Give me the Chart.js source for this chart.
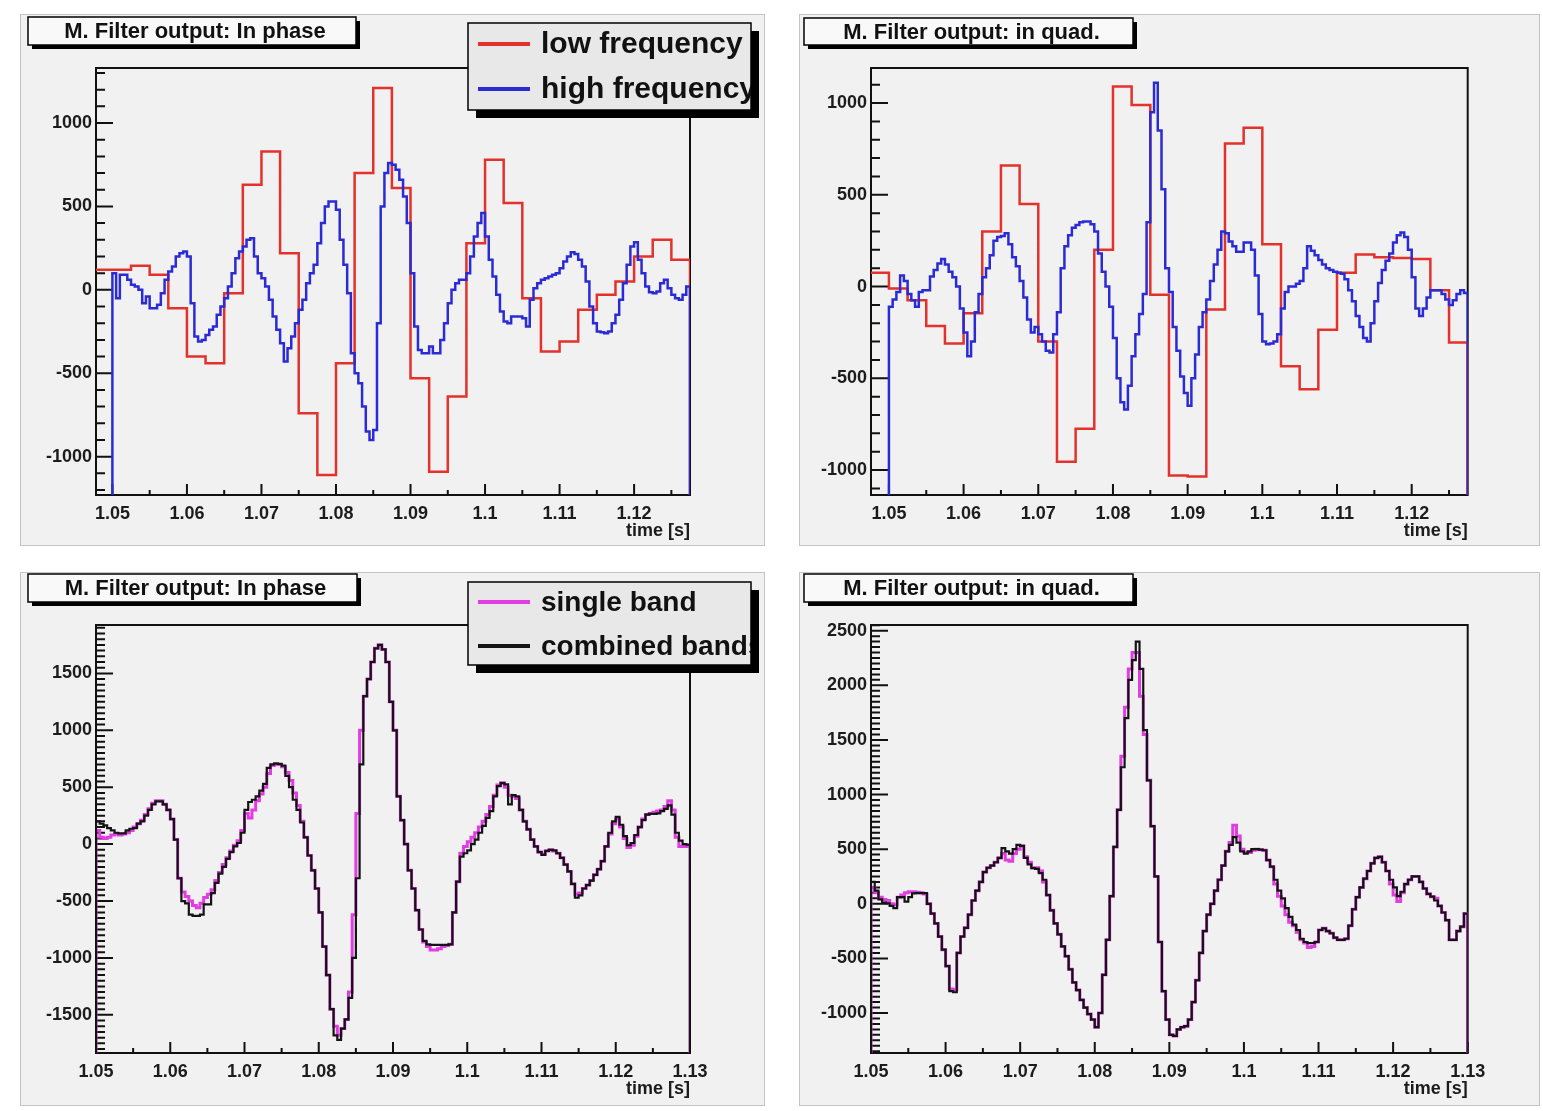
<!DOCTYPE html>
<html>
<head>
<meta charset="utf-8">
<title>M. Filter output</title>
<script src="https://cdn.jsdelivr.net/npm/chart.js@4.4.1/dist/chart.umd.min.js"></script>
<style>
  html,body{margin:0;padding:0;background:#fff}
  body{position:relative;width:1543px;height:1111px;overflow:hidden}
  canvas{position:absolute}
</style>
</head>
<body>
<script>
// bins: low band 2.5 ms wide from 1.0475 s, the others 0.5 ms wide from 1.05 s
const lowStart = 1.0475, lowWidth = 0.0025;
const fineStart = 1.05, fineWidth = 0.0005;

// top row (red / blue)
const phaseLow = [120,120,145,90,-110,-400,-440,-20,630,830,220,-740,-1110,-440,700,1210,
  610,-530,-1090,-640,280,780,520,-50,-370,-310,-120,-30,50,200,300,180];
const phaseHigh = [
  100,-50,90,90,60,30,20,0,-80,-40,
  -110,-110,-90,-20,60,110,140,200,220,230,
  200,-80,-280,-310,-300,-270,-240,-220,-150,-100,
  -50,20,100,190,230,260,300,310,200,100,
  70,20,-60,-160,-240,-320,-430,-350,-280,-200,
  -120,-60,40,100,150,280,400,500,530,530,
  480,300,150,-20,-380,-500,-560,-700,-850,-900,
  -840,-200,500,700,760,
  750,720,660,560,400,100,-220,-360,-380,-380,
  -340,-380,-380,-300,-200,-80,0,40,60,60,
  100,200,320,400,460,320,180,80,-30,-130,
  -190,-200,-160,-160,-160,-170,-220,-60,10,40,
  60,70,80,90,100,130,170,200,225,215,
  180,140,50,-100,-200,-250,-255,-260,-250,-200,
  -150,-60,40,150,260,285,180,100,20,-15,
  -20,-10,40,60,10,-30,-50,-60,-30,20];
const quadLow = [75,-10,-75,-215,-310,-145,300,660,450,-300,-955,-775,200,1090,990,-45,
  -1030,-1035,-125,780,865,230,-435,-560,-235,75,175,160,155,150,-20,-305];
const quadHigh = [
  -110,-70,-30,60,30,-40,-75,-110,-30,-20,
  -20,55,90,125,150,120,80,50,0,-120,
  -250,-380,-300,-140,-40,50,100,170,250,270,
  275,290,230,160,110,30,-60,-180,-250,-220,
  -260,-300,-350,-360,-260,-140,100,220,280,320,
  335,350,355,355,340,300,180,80,0,-110,
  -280,-500,-630,-670,-540,-380,-260,-150,-40,350,
  950,1110,850,530,100,
  -30,-220,-350,-490,-580,-650,-500,-370,-220,-140,
  -70,30,120,200,300,290,245,220,190,190,
  240,240,200,60,-150,-300,-315,-310,-300,-260,
  -120,-30,0,0,15,30,100,220,195,170,
  145,120,100,90,80,75,70,40,-20,-80,
  -160,-220,-280,-300,-200,-80,20,90,140,180,
  240,280,295,270,200,50,-120,-160,-120,-60,
  -20,-20,-20,-40,-70,-100,-75,-40,-20,-35];

// bottom row (magenta / black)
const phaseSingle = [
  120,60,50,60,80,90,80,90,100,120,
  150,180,210,260,310,360,380,380,350,300,
  220,40,-300,-420,-460,-500,-540,-560,-520,-470,
  -440,-400,-320,-250,-180,-120,-60,-10,30,120,
  270,230,300,380,440,500,620,690,700,700,
  680,630,560,450,340,200,60,-100,-230,-390,
  -600,-900,-1150,-1450,-1600,-1680,-1620,-1540,-1300,-620,
  270,1000,1300,1450,1600,1720,1750,1710,1600,1250,
  1000,
  420,210,0,-230,-390,-580,-750,-860,-900,-930,
  -930,-920,-900,-890,-880,-600,-330,-80,-20,20,
  60,100,150,200,260,330,430,520,540,500,
  430,420,400,300,200,130,40,-20,-70,-90,
  -60,-50,-60,-80,-120,-180,-240,-350,-440,-430,
  -390,-360,-320,-270,-220,-150,-20,90,180,220,
  150,50,-30,-10,70,150,220,260,270,280,
  290,300,330,380,300,60,-20,-20,-20];
const phaseCombined = [
  200,180,165,140,120,100,95,95,120,135,
  140,180,200,250,300,350,375,375,350,300,
  220,40,-300,-500,-520,-620,-630,-630,-620,-530,
  -530,-430,-340,-260,-200,-130,-70,-20,10,100,
  300,370,390,420,470,530,670,700,710,705,
  690,600,500,390,300,190,60,-100,-230,-390,
  -600,-900,-1150,-1450,-1680,-1720,-1620,-1540,-1350,-1000,
  -300,700,1300,1450,1600,1720,1750,1710,1600,1250,
  1000,
  420,210,0,-230,-390,-580,-750,-850,-880,-885,
  -885,-885,-885,-885,-880,-600,-330,-110,-80,-55,
  0,40,100,160,230,290,420,510,535,525,
  350,430,420,300,200,130,40,-20,-70,-95,
  -60,-50,-55,-80,-120,-180,-240,-350,-470,-450,
  -390,-360,-320,-270,-220,-150,-20,100,200,240,
  170,70,-10,10,80,150,210,260,265,265,
  270,290,310,340,260,100,30,0,-5];
const quadSingle = [
  150,100,60,40,30,0,-10,60,80,100,
  110,110,105,100,90,0,-90,-180,-300,-420,
  -570,-780,-790,-450,-300,-220,-100,30,120,200,
  290,330,350,380,420,460,400,390,460,500,
  530,430,380,330,330,300,200,80,-60,-180,
  -280,-390,-480,-600,-720,-790,-880,-950,-1010,-1060,
  -1130,-1000,-650,-330,70,520,860,1350,1800,2150,
  2300,2300,1900,1550,1130,710,250,-350,-800,-1060,
  -1200,
  -1210,-1150,-1130,-1120,-1060,-900,-700,-450,-250,-100,
  0,120,220,350,480,560,720,620,500,470,
  470,490,500,495,490,400,340,180,70,-20,
  -100,-170,-200,-260,-330,-360,-400,-390,-350,-240,
  -225,-250,-270,-310,-330,-330,-320,-200,-50,60,
  150,230,300,370,420,430,380,300,180,80,
  20,100,180,220,250,250,200,140,90,65,
  50,-20,-80,-150,-330,-330,-250,-210,-90];
const quadCombined = [
  200,120,40,10,5,-20,-40,60,60,20,
  60,95,98,98,98,0,-90,-180,-300,-420,
  -570,-800,-810,-450,-300,-220,-100,30,120,200,
  290,330,350,380,420,510,480,460,500,540,
  530,420,360,326,320,280,220,80,-60,-180,
  -280,-390,-480,-600,-720,-790,-880,-950,-1010,-1060,
  -1130,-1000,-650,-330,70,520,860,1250,1700,2050,
  2230,2400,2150,1590,1130,710,250,-350,-800,-1060,
  -1200,
  -1210,-1150,-1130,-1120,-1060,-900,-700,-450,-250,-100,
  0,120,220,350,480,540,610,560,480,460,
  480,500,500,495,490,400,340,220,120,50,
  -40,-120,-190,-240,-320,-350,-360,-360,-350,-240,
  -225,-250,-270,-310,-330,-330,-320,-200,-50,60,
  150,230,300,370,420,430,380,300,220,150,
  70,110,180,220,250,250,200,140,90,65,
  30,-20,-80,-150,-330,-330,-250,-210,-90];

const xTicksTop = [1.05,1.06,1.07,1.08,1.09,1.1,1.11,1.12];
const xTicksBottom = [1.05,1.06,1.07,1.08,1.09,1.1,1.11,1.12,1.13];
const yTicksTop = [-1000,-500,0,500,1000];
const yTicksPhase = [-1500,-1000,-500,0,500,1000,1500];
const yTicksQuad = [-1000,-500,0,500,1000,1500,2000,2500];

const FONT = "'Liberation Sans', Arial, Helvetica, sans-serif";
const INK = '#1c1c1c';
Chart.defaults.font.family = FONT;
Chart.defaults.font.weight = 'bold';
Chart.defaults.color = INK;

// ROOT style histogram outline: rises from the floor at the first edge, drops back at the last
function hist(start, width, values, floor) {
  const pts = [{x: start, y: floor}];
  values.forEach((v, i) => pts.push({x: start + i * width, y: v}));
  pts.push({x: start + values.length * width, y: floor});
  return pts;
}

function paveBox(ctx, x, y, w, h, sh, fill) {
  ctx.fillStyle = '#000';
  ctx.fillRect(x + sh, y + sh, w, h);
  ctx.fillStyle = fill;
  ctx.fillRect(x, y, w, h);
  ctx.strokeStyle = '#000';
  ctx.lineWidth = 1.5;
  ctx.strokeRect(x, y, w, h);
}

const rootPad = {
  id: 'rootPad',
  beforeDraw(chart) {
    const {ctx, width, height} = chart;
    ctx.save();
    ctx.fillStyle = '#f1f1f1';
    ctx.fillRect(0, 0, width, height);
    ctx.strokeStyle = '#c4c4c4';
    ctx.lineWidth = 1;
    ctx.strokeRect(0.5, 0.5, width - 1, height - 1);
    ctx.restore();
  },
  // frame and inward ticks go under the histograms, as ROOT paints them
  beforeDatasetsDraw(chart, args, o) {
    const {ctx, chartArea: a} = chart;
    const xs = chart.scales.x, ys = chart.scales.y;
    ctx.save();
    ctx.strokeStyle = '#111';
    ctx.lineWidth = 2;
    ctx.beginPath();
    for (let k = Math.ceil(xs.min / o.xMinor - 1e-6); k * o.xMinor <= xs.max + 1e-9; k++) {
      const px = xs.getPixelForValue(k * o.xMinor);
      const len = k % 2 === 0 ? 11 : 5;
      ctx.moveTo(px, a.bottom);
      ctx.lineTo(px, a.bottom - len);
    }
    for (let k = Math.ceil(ys.min / o.yMinor - 1e-6); k * o.yMinor <= ys.max + 1e-9; k++) {
      const py = ys.getPixelForValue(k * o.yMinor);
      const len = (k * o.yMinor) % 500 === 0 ? 17 : 9;
      ctx.moveTo(a.left, py);
      ctx.lineTo(a.left + len, py);
    }
    ctx.stroke();
    ctx.strokeRect(a.left, a.top, a.right - a.left, a.bottom - a.top);
    ctx.restore();
  },
  afterDraw(chart, args, o) {
    const ctx = chart.ctx;
    const t = o.title;
    ctx.save();
    paveBox(ctx, t.x, t.y, t.w, t.h, 4, '#f9f9f9');
    ctx.fillStyle = '#111';
    ctx.font = `bold 22px ${FONT}`;
    ctx.textAlign = 'center';
    ctx.textBaseline = 'middle';
    ctx.fillText(t.text, t.x + t.w / 2 + 3, t.y + t.h / 2 + 1);
    const L = o.legend;
    if (L) {
      paveBox(ctx, L.x, L.y, L.w, L.h, 8, '#e8e8e8');
      ctx.beginPath();
      ctx.rect(L.x, L.y, L.w, L.h);
      ctx.clip();
      ctx.font = `bold ${L.size}px ${FONT}`;
      ctx.textAlign = 'left';
      chart.data.datasets.forEach((ds, i) => {
        const cy = L.rows[i];
        ctx.strokeStyle = ds.borderColor;
        ctx.lineWidth = 4;
        ctx.beginPath();
        ctx.moveTo(L.x + 10, cy);
        ctx.lineTo(L.x + 62, cy);
        ctx.stroke();
        ctx.fillStyle = '#111';
        ctx.fillText(ds.label, L.x + 73, cy + 1);
      });
    }
    ctx.restore();
  }
};

function panel(p) {
  const c = document.createElement('canvas');
  c.width = p.w; c.height = p.h;
  c.style.cssText = `left:${p.x}px;top:${p.y}px;width:${p.w}px;height:${p.h}px`;
  document.body.appendChild(c);
  const xH = 47;
  new Chart(c, {
    type: 'line',
    data: {datasets: p.sets.map(s => ({
      label: s.label, data: s.data, borderColor: s.color, order: s.order,
      borderWidth: s.width, pointRadius: 0, stepped: 'before', fill: false, tension: 0
    }))},
    options: {
      responsive: false, animation: false, devicePixelRatio: 1,
      layout: {padding: {left: 10, right: p.rightPad, top: p.top, bottom: p.bottomSpace - xH}},
      plugins: {
        legend: {display: false}, tooltip: {enabled: false},
        rootPad: {title: p.title, legend: p.legend, xMinor: 0.005, yMinor: p.yMinor}
      },
      scales: {
        x: {
          type: 'linear', min: p.xMin, max: p.xMax,
          grid: {display: false, drawTicks: false}, border: {display: false},
          afterBuildTicks: s => { s.ticks = p.xTicks.map(v => ({value: v})); },
          afterFit: s => { s.height = xH; },
          ticks: {autoSkip: false, maxRotation: 0, padding: 8, color: INK,
                  font: {size: 18, weight: 'bold'}, callback: v => String(v)},
          title: {display: true, text: 'time [s]', align: 'end', color: INK,
                  font: {size: 18, weight: 'bold'}, padding: 0}
        },
        y: {
          type: 'linear', min: p.yMin, max: p.yMax,
          grid: {display: false, drawTicks: false}, border: {display: false},
          afterBuildTicks: s => { s.ticks = p.yTicks.map(v => ({value: v})); },
          afterFit: s => { s.width = p.left - 10; },
          ticks: {autoSkip: false, padding: 4, color: INK,
                  font: {size: 18, weight: 'bold'}, callback: v => String(v)}
        }
      }
    },
    plugins: [rootPad]
  });
}

const RED = '#e3322b', BLUE = '#2b2bd6', MAGENTA = '#e23de2', BLACK = '#141414';

panel({
  x: 20, y: 14, w: 745, h: 532, left: 76, top: 54, rightPad: 75, bottomSpace: 51,
  xMin: 1.0478, xMax: 1.1275, yMin: -1230, yMax: 1330,
  xTicks: xTicksTop, yTicks: yTicksTop, yMinor: 100,
  title: {text: 'M. Filter output: In phase', x: 8, y: 3, w: 328, h: 28},
  legend: {x: 448, y: 9, w: 283, h: 87, rows: [30, 75], size: 30},
  sets: [
    {label: 'low frequency', data: hist(lowStart, lowWidth, phaseLow, -1230), color: RED, order: 1, width: 2.5},
    {label: 'high frequency', data: hist(fineStart, fineWidth, phaseHigh, -1230), color: BLUE, order: 0, width: 2.5}
  ]
});

panel({
  x: 799, y: 14, w: 741, h: 532, left: 72, top: 54, rightPad: 72.3, bottomSpace: 51,
  xMin: 1.0476, xMax: 1.1275, yMin: -1136, yMax: 1191,
  xTicks: xTicksTop, yTicks: yTicksTop, yMinor: 100,
  title: {text: 'M. Filter output: in quad.', x: 5, y: 4, w: 329, h: 27},
  legend: null,
  sets: [
    {label: 'low frequency', data: hist(lowStart, lowWidth, quadLow, -1136), color: RED, order: 1, width: 2.5},
    {label: 'high frequency', data: hist(fineStart, fineWidth, quadHigh, -1136), color: BLUE, order: 0, width: 2.5}
  ]
});

panel({
  x: 20, y: 572, w: 745, h: 534, left: 76, top: 53, rightPad: 75, bottomSpace: 53,
  xMin: 1.05, xMax: 1.13, yMin: -1835, yMax: 1925,
  xTicks: xTicksBottom, yTicks: yTicksPhase, yMinor: 50,
  title: {text: 'M. Filter output: In phase', x: 8, y: 2, w: 329, h: 28},
  legend: {x: 448, y: 10, w: 283, h: 83, rows: [30, 74], size: 28},
  sets: [
    {label: 'single band', data: hist(fineStart, fineWidth, phaseSingle, -1835), color: MAGENTA, order: 1, width: 3},
    {label: 'combined bands', data: hist(fineStart, fineWidth, phaseCombined, -1835), color: BLACK, order: 0, width: 2.2}
  ]
});

panel({
  x: 799, y: 572, w: 741, h: 534, left: 72, top: 53, rightPad: 72.3, bottomSpace: 53,
  xMin: 1.05, xMax: 1.13, yMin: -1366, yMax: 2552,
  xTicks: xTicksBottom, yTicks: yTicksQuad, yMinor: 50,
  title: {text: 'M. Filter output: in quad.', x: 5, y: 2, w: 329, h: 28},
  legend: null,
  sets: [
    {label: 'single band', data: hist(fineStart, fineWidth, quadSingle, -1366), color: MAGENTA, order: 1, width: 3},
    {label: 'combined bands', data: hist(fineStart, fineWidth, quadCombined, -1366), color: BLACK, order: 0, width: 2.2}
  ]
});
</script>
</body>
</html>
